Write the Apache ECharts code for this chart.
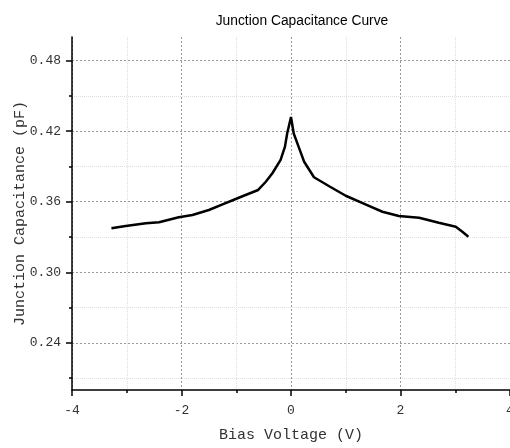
<!DOCTYPE html>
<html>
<head>
<meta charset="utf-8">
<script src="https://cdn.jsdelivr.net/npm/echarts@6/dist/echarts.min.js"></script>
<style>html,body{margin:0;padding:0;background:#fff;}#c{width:510px;height:448px;}</style>
</head>
<body>
<div id="c"></div>
<script>
const voltage = [-3.28, -3.02, -2.65, -2.41, -2.05, -1.80, -1.50, -1.25, -1.01, -0.83, -0.60, -0.46, -0.34, -0.19, -0.11, -0.07, 0.0, 0.05, 0.15, 0.24, 0.42, 0.69, 1.00, 1.36, 1.67, 1.97, 2.34, 2.70, 3.01, 3.13, 3.24];
const capacitance = [0.3374, 0.3394, 0.3417, 0.3425, 0.3468, 0.3487, 0.3530, 0.3578, 0.3623, 0.3657, 0.3700, 0.3770, 0.3842, 0.3955, 0.4068, 0.4180, 0.4320, 0.4180, 0.4054, 0.3940, 0.3808, 0.3734, 0.3651, 0.3578, 0.3515, 0.3479, 0.3464, 0.3422, 0.3388, 0.3345, 0.3303];
const yMajorTicks = [0.24, 0.30, 0.36, 0.42, 0.48];
const yMinorTicks = [0.21, 0.27, 0.33, 0.39, 0.45];
const titleText = 'Junction Capacitance Curve';
const xName = 'Bias Voltage (V)';
const yName = 'Junction Capacitance (pF)';

const monoFont = 'Liberation Mono';
const chart = echarts.init(document.getElementById('c'));
chart.setOption({
  animation: false,
  title: {
    text: titleText, left: 297, top: 9, textAlign: 'center',
    textStyle: { fontFamily: 'Liberation Sans', fontSize: 13.8, fontWeight: 'normal', color: '#000' }
  },
  grid: { left: 72, right: 0, top: 37, bottom: 58, outerBoundsMode: 'none', containLabel: false },
  xAxis: {
    type: 'value', min: -4, max: 4, interval: 2,
    name: xName, nameLocation: 'middle', nameGap: 38, nameMoveOverlap: false,
    nameTextStyle: { fontFamily: monoFont, fontSize: 15, color: '#333' },
    axisLine: { onZero: false, lineStyle: { color: '#000', width: 1.5 } },
    axisTick: { show: true, inside: false, length: 6, lineStyle: { color: '#000', width: 1.5 } },
    minorTick: { show: true, splitNumber: 2, length: 3, lineStyle: { color: '#000', width: 1.5 } },
    axisLabel: { fontFamily: monoFont, fontSize: 13, color: '#333', margin: 14 },
    splitLine: { show: true, lineStyle: { color: '#999', type: [2, 2], width: 1 } },
    minorSplitLine: { show: true, lineStyle: { color: '#ddd', type: [1, 1], width: 1 } }
  },
  yAxis: [{
    type: 'value', min: 0.2, max: 0.5,
    name: yName, nameLocation: 'middle', nameGap: 44, nameMoveOverlap: false,
    nameTextStyle: { fontFamily: monoFont, fontSize: 15, color: '#333' },
    axisLine: { onZero: false, lineStyle: { color: '#000', width: 1.5 } },
    axisTick: { show: true, inside: false, length: 6, customValues: yMajorTicks, lineStyle: { color: '#000', width: 1.5 } },
    axisLabel: { fontFamily: monoFont, fontSize: 13, color: '#333', margin: 11, customValues: yMajorTicks,
      formatter: v => v.toFixed(2) },
    splitLine: { show: true, lineStyle: { color: '#999', type: [2, 2], width: 1 } }
  }, {
    type: 'value', min: 0.2, max: 0.5, position: 'left', offset: 0,
    axisLine: { show: false, onZero: false },
    axisTick: { show: true, inside: false, length: 3, customValues: yMinorTicks, lineStyle: { color: '#000', width: 1.5 } },
    axisLabel: { show: false, customValues: yMinorTicks },
    splitLine: { show: true, lineStyle: { color: '#ddd', type: [1, 1], width: 1 } }
  }],
  series: [{
    type: 'line', yAxisIndex: 0,
    data: voltage.map((v, i) => [v, capacitance[i]]),
    showSymbol: false, smooth: false,
    lineStyle: { color: '#000', width: 2.5 }
  }]
});
</script>
</body>
</html>
